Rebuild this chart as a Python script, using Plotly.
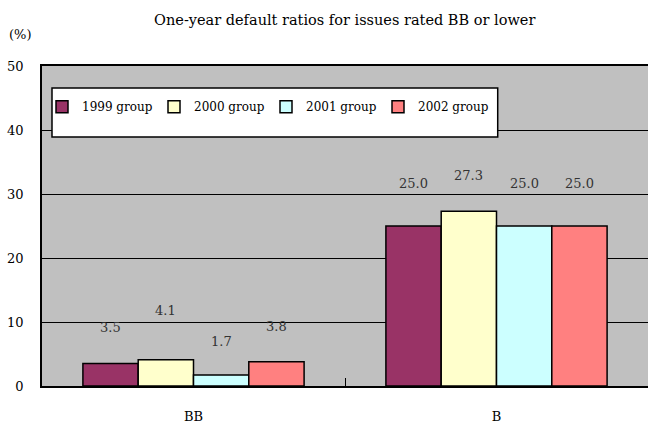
import plotly.graph_objects as go

categories = ["BB", "B"]
series_names = ["1999 group", "2000 group", "2001 group", "2002 group"]
v1999 = [3.5, 25.0]
v2000 = [4.1, 27.3]
v2001 = [1.7, 25.0]
v2002 = [3.8, 25.0]
values = [v1999, v2000, v2001, v2002]
colors = ["#993366", "#FFFFCC", "#CCFFFF", "#FF8080"]
# vertical pixel offset of each value label above its bar
label_shift = [[36, 43], [49, 36], [34, 43], [35, 43]]
yticks = [0, 10, 20, 30, 40, 50]

FONT = "DejaVu Serif, Liberation Serif, serif"

fig = go.Figure()
for name, vals, col in zip(series_names, values, colors):
    fig.add_trace(go.Bar(
        x=categories, y=vals, name=name,
        marker=dict(color=col, line=dict(color="black", width=1.5)),
    ))

annotations = []
n = len(series_names)
for i, vals in enumerate(values):
    for j, v in enumerate(vals):
        off = (-0.5 + (i + 0.5) / n) * 0.73
        annotations.append(dict(
            x=j + off, y=v, xref="x", yref="y", text=f"{v:.1f}",
            showarrow=False, yshift=label_shift[i][j],
            font=dict(family=FONT, size=13, color="#333333"),
        ))

annotations.append(dict(x=-0.036, y=1.097, xref="paper", yref="paper",
                        text="(%)", showarrow=False, xanchor="center", yanchor="middle",
                        font=dict(family=FONT, size=13, color="black")))

fig.update_layout(
    width=648, height=423,
    margin=dict(l=42, r=0, t=66, b=37, autoexpand=False),
    paper_bgcolor="white", plot_bgcolor="#C0C0C0",
    barmode="group", bargap=0.27, bargroupgap=0,
    title=dict(text="One-year default ratios for issues rated BB or lower",
               x=0.532, xanchor="center", y=0.953, yanchor="middle",
               font=dict(family=FONT, size=14.5, color="black"), automargin=False),
    font=dict(family=FONT, size=13, color="black"),
    showlegend=True,
    legend=dict(orientation="h", x=0.0, y=0.918, xanchor="left", yanchor="top",
                bgcolor="rgba(0,0,0,0)", borderwidth=0,
                font=dict(family=FONT, size=12, color="black"),
                entrywidth=67, itemwidth=30, tracegroupgap=0),
    annotations=annotations,
    shapes=[dict(type="rect", xref="paper", yref="paper",
                 x0=0.0165, x1=0.752, y0=0.778, y1=0.931,
                 fillcolor="white", line=dict(color="black", width=1.5),
                 layer="above")],
    xaxis=dict(range=[-0.5, 1.5], showline=True, linecolor="black", linewidth=2,
               mirror=True, ticks="inside", tickson="boundaries", ticklen=8,
               tickcolor="black", showgrid=False, ticklabelstandoff=17,
               automargin=False,
               tickfont=dict(family=FONT, size=13, color="black")),
    yaxis=dict(range=[0, 50], tickvals=yticks, showline=True, linecolor="black",
               linewidth=1.5, showgrid=True, gridcolor="black", gridwidth=1,
               zeroline=False, ticks="", ticklabelstandoff=14, automargin=False,
               tickfont=dict(family=FONT, size=13, color="black")),
)

fig.write_html("out.html", config={"displayModeBar": False},
               post_script="document.body.style.margin='0';document.body.style.overflow='hidden';")
